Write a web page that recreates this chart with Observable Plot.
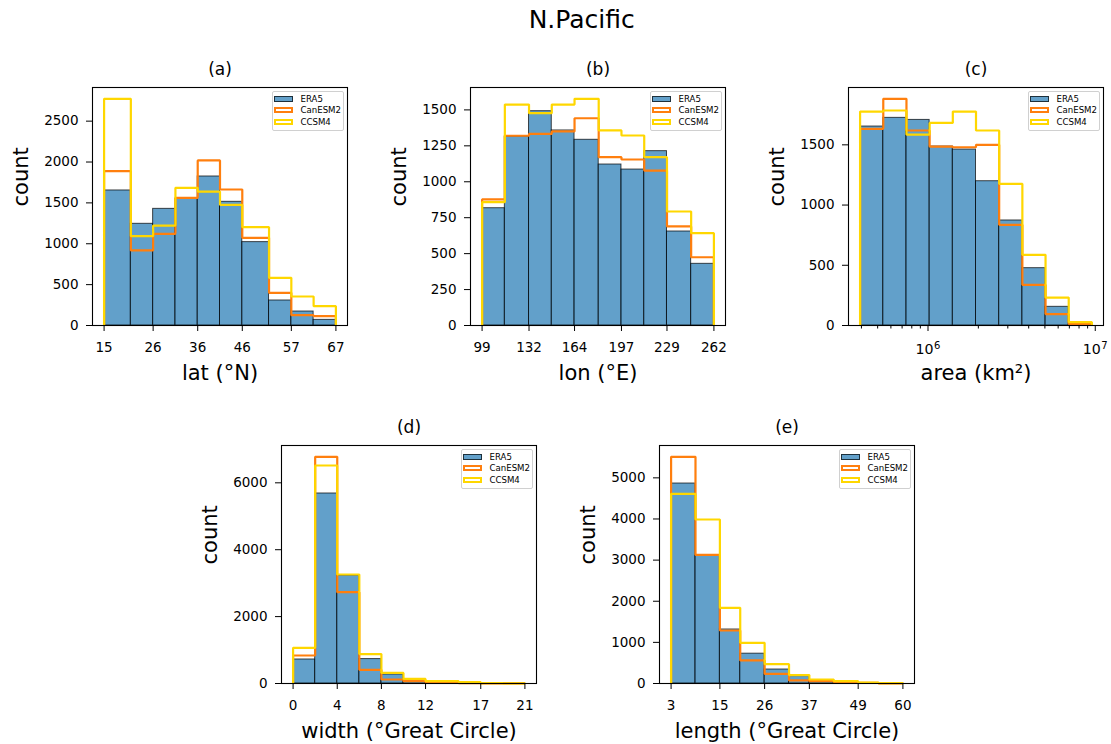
<!DOCTYPE html>
<html><head><meta charset="utf-8">
<script src="https://cdn.jsdelivr.net/npm/d3@7"></script>
<script src="https://cdn.jsdelivr.net/npm/@observablehq/plot@0.6"></script>
<style>
body{margin:0;background:#fff;font-family:"DejaVu Sans",sans-serif;}
#fig{position:relative;width:1111px;height:744px;overflow:hidden;background:#fff;}
#suptitle{position:absolute;left:0;width:1163.4px;top:7.6px;text-align:center;font-size:25px;line-height:24px;color:#000;}
.panel{position:absolute;}
.legend{position:absolute;width:72px;height:40px;border:1px solid #d0d0d0;border-radius:2px;background:rgba(255,255,255,0.8);box-sizing:border-box;}
.legend .sw{position:absolute;left:1.5px;width:19px;height:6px;box-sizing:border-box;}
.legend .lb{position:absolute;left:28px;font-size:8.6px;line-height:10px;color:#000;white-space:nowrap;}
</style></head><body><div id="fig"><div id="suptitle">N.Pacific</div></div>
<script>
const seriesNames = ["ERA5", "CanESM2", "CCSM4"];
const seriesColors = ["#1f77b4", "#ff7f0e", "#ffd700"];

// (a) latitude
const latEdges = [15, 21, 26, 31, 36, 41, 46, 52, 57, 62, 67];
const latERA5 = [1652, 1244, 1427, 1550, 1823, 1513, 1020, 306, 171, 69];
const latCanESM2 = [1888, 918, 1121, 1562, 2019, 1664, 1073, 400, 126, 114];
const latCCSM4 = [2773, 1093, 1223, 1684, 1639, 1476, 1203, 583, 355, 237];
const latTicks = [15, 26, 36, 46, 57, 67];
const latYTicks = [0, 500, 1000, 1500, 2000, 2500];

// (b) longitude
const lonEdges = [99, 115, 132, 148, 164, 181, 197, 213, 229, 246, 262];
const lonERA5 = [816, 1315, 1491, 1357, 1292, 1120, 1085, 1213, 654, 429];
const lonCanESM2 = [877, 1320, 1333, 1350, 1442, 1171, 1155, 1078, 689, 475];
const lonCCSM4 = [858, 1537, 1477, 1537, 1577, 1357, 1322, 1171, 793, 642];
const lonTicks = [99, 132, 164, 197, 229, 262];
const lonYTicks = [0, 250, 500, 750, 1000, 1250, 1500];

// (c) area (log bins)
const areaEdges = [392600, 540200, 743400, 1022800, 1407300, 1936400, 2664000, 3666000, 5044000, 6940000, 9550000];
const areaERA5 = [1652, 1724, 1707, 1486, 1461, 1198, 872, 476, 155, 8];
const areaCanESM2 = [1633, 1882, 1619, 1486, 1480, 1500, 836, 338, 95, 12];
const areaCCSM4 = [1776, 1785, 1585, 1682, 1776, 1619, 1176, 587, 232, 28];
const areaTicks = [1e6, 1e7];
const areaTickBase = ["10", "10"];
const areaTickExp = ["6", "7"];
const areaMinorTicks = [4e5, 5e5, 6e5, 7e5, 8e5, 9e5, 2e6, 3e6, 4e6, 5e6, 6e6, 7e6, 8e6, 9e6];
const areaYTicks = [0, 500, 1000, 1500];

// (d) width
const widthEdges = [0, 2, 4, 6, 8, 10, 12, 15, 17, 19, 21];
const widthERA5 = [718, 5681, 3229, 730, 270, 90, 35, 15, 5, 2];
const widthCanESM2 = [837, 6777, 2731, 410, 120, 70, 30, 10, 4, 2];
const widthCCSM4 = [1066, 6518, 3259, 880, 317, 138, 70, 40, 10, 5];
const widthTicks = [0, 4, 8, 12, 17, 21];
const widthYTicks = [0, 2000, 4000, 6000];

// (e) length
const lengthEdges = [3, 9, 15, 20, 26, 32, 37, 43, 49, 54, 60];
const lengthERA5 = [4862, 3112, 1313, 725, 340, 178, 45, 18, 8, 3];
const lengthCanESM2 = [5511, 3125, 1289, 560, 235, 75, 56, 32, 15, 5];
const lengthCCSM4 = [4611, 3987, 1840, 990, 470, 205, 97, 56, 24, 8];
const lengthTicks = [3, 15, 26, 37, 49, 60];
const lengthYTicks = [0, 1000, 2000, 3000, 4000, 5000];

const panels = [
  {id: "(a)", label: "lat (°N)", edges: latEdges, counts: [latERA5, latCanESM2, latCCSM4], ticks: latTicks, yTicks: latYTicks, left: 92, top: 87},
  {id: "(b)", label: "lon (°E)", edges: lonEdges, counts: [lonERA5, lonCanESM2, lonCCSM4], ticks: lonTicks, yTicks: lonYTicks, left: 470, top: 87},
  {id: "(c)", label: "area (km²)", edges: areaEdges, counts: [areaERA5, areaCanESM2, areaCCSM4], ticks: areaTicks, minor: areaMinorTicks, yTicks: areaYTicks, left: 848, top: 87, log: true},
  {id: "(d)", label: "width (°Great Circle)", edges: widthEdges, counts: [widthERA5, widthCanESM2, widthCCSM4], ticks: widthTicks, yTicks: widthYTicks, left: 281, top: 445},
  {id: "(e)", label: "length (°Great Circle)", edges: lengthEdges, counts: [lengthERA5, lengthCanESM2, lengthCCSM4], ticks: lengthTicks, yTicks: lengthYTicks, left: 659, top: 445}
];

const ML = 100, MR = 12, MT = 40, MB = 70, IW = 255, IH = 238;
const fig = document.getElementById("fig");

function stepPoints(edges, counts) {
  const pts = [{x: edges[0], y: 0}];
  counts.forEach((v, i) => pts.push({x: edges[i], y: v}));
  pts.push({x: edges[edges.length - 1], y: counts[counts.length - 1]});
  pts.push({x: edges[edges.length - 1], y: 0});
  return pts;
}

panels.forEach(p => {
  const [era, can, ccs] = p.counts;
  const bars = era.map((v, i) => ({x1: p.edges[i], x2: p.edges[i + 1], y: v}));
  const lo = p.edges[0], hi = p.edges[p.edges.length - 1];
  let xdom;
  if (p.log) {
    const a = Math.log10(lo), b = Math.log10(hi), m = (b - a) * 0.05;
    xdom = [10 ** (a - m), 10 ** (b + m)];
  } else {
    const m = (hi - lo) * 0.05;
    xdom = [lo - m, hi + m];
  }
  const ymax = d3.max([...era, ...can, ...ccs]) * 1.05;
  const marks = [
    Plot.rect(bars, {x1: "x1", x2: "x2", y1: 0, y2: "y", fill: seriesColors[0], fillOpacity: 0.7, stroke: "#000", strokeOpacity: 0.7, strokeWidth: 1, inset: 0}),
    Plot.line(stepPoints(p.edges, can), {x: "x", y: "y", curve: "step-after", stroke: seriesColors[1], strokeWidth: 2.2, strokeLinejoin: "miter", strokeLinecap: "butt"}),
    Plot.line(stepPoints(p.edges, ccs), {x: "x", y: "y", curve: "step-after", stroke: seriesColors[2], strokeWidth: 2.2, strokeLinejoin: "miter", strokeLinecap: "butt"}),
    Plot.axisY(p.yTicks, {tickSize: 6, tickPadding: 8, fontSize: 13.5, tickFormat: d => String(d), label: null})
  ];
  if (p.log) {
    marks.push(
      Plot.axisX(p.ticks, {tickSize: 6, tickFormat: () => "", label: null}),
      Plot.axisX(p.minor, {tickSize: 3.5, tickFormat: () => "", label: null}),
      Plot.text(p.ticks, {x: d => d, frameAnchor: "bottom", dy: 28.5, dx: -3.5, lineAnchor: "bottom", text: (d, i) => areaTickBase[i], fontSize: 14.2}),
      Plot.text(p.ticks, {x: d => d, frameAnchor: "bottom", dy: 23, dx: 6, lineAnchor: "bottom", textAnchor: "start", text: (d, i) => areaTickExp[i], fontSize: 10})
    );
  } else {
    marks.push(Plot.axisX(p.ticks, {tickSize: 6, tickPadding: 10.5, fontSize: 13.5, label: null, tickFormat: d => String(d)}));
  }
  marks.push(
    Plot.frame({stroke: "#000", strokeWidth: 1.1}),
    Plot.text([p.id], {frameAnchor: "top", dy: -13, lineAnchor: "bottom", text: d => d, fontSize: 17}),
    Plot.text([p.label], {frameAnchor: "bottom", dy: 54, lineAnchor: "bottom", text: d => d, fontSize: 21}),
    Plot.text(["count"], {frameAnchor: "left", dx: -65, rotate: -90, lineAnchor: "bottom", text: d => d, fontSize: 21})
  );
  const chart = Plot.plot({
    width: ML + IW + MR, height: MT + IH + MB,
    marginLeft: ML, marginRight: MR, marginTop: MT, marginBottom: MB,
    x: p.log ? {type: "log", domain: xdom, label: null} : {domain: xdom, label: null},
    y: {domain: [0, ymax], label: null},
    style: {fontFamily: "DejaVu Sans", fontSize: "13.5px", color: "#000", background: "none", overflow: "visible"},
    marks
  });
  chart.classList.add("panel");
  chart.style.left = (p.left - ML) + "px";
  chart.style.top = (p.top - MT) + "px";
  fig.appendChild(chart);

  // legend
  const lg = document.createElement("div");
  lg.className = "legend";
  lg.style.left = (p.left + IW - 3.5 - 72) + "px";
  lg.style.top = (p.top + 3.5) + "px";
  const centers = [8, 19.7, 31.3];
  seriesNames.forEach((name, i) => {
    const sw = document.createElement("div");
    sw.className = "sw";
    sw.style.top = (centers[i] - 1 - 3) + "px";
    if (i === 0) {
      sw.style.background = "rgba(31,119,180,0.7)";
      sw.style.border = "1px solid rgba(0,0,0,0.7)";
    } else {
      sw.style.background = "#fff";
      sw.style.border = "2px solid " + seriesColors[i];
    }
    const lb = document.createElement("div");
    lb.className = "lb";
    lb.style.top = (centers[i] - 1 - 5) + "px";
    lb.textContent = name;
    lg.appendChild(sw);
    lg.appendChild(lb);
  });
  fig.appendChild(lg);
});
</script></body></html>
